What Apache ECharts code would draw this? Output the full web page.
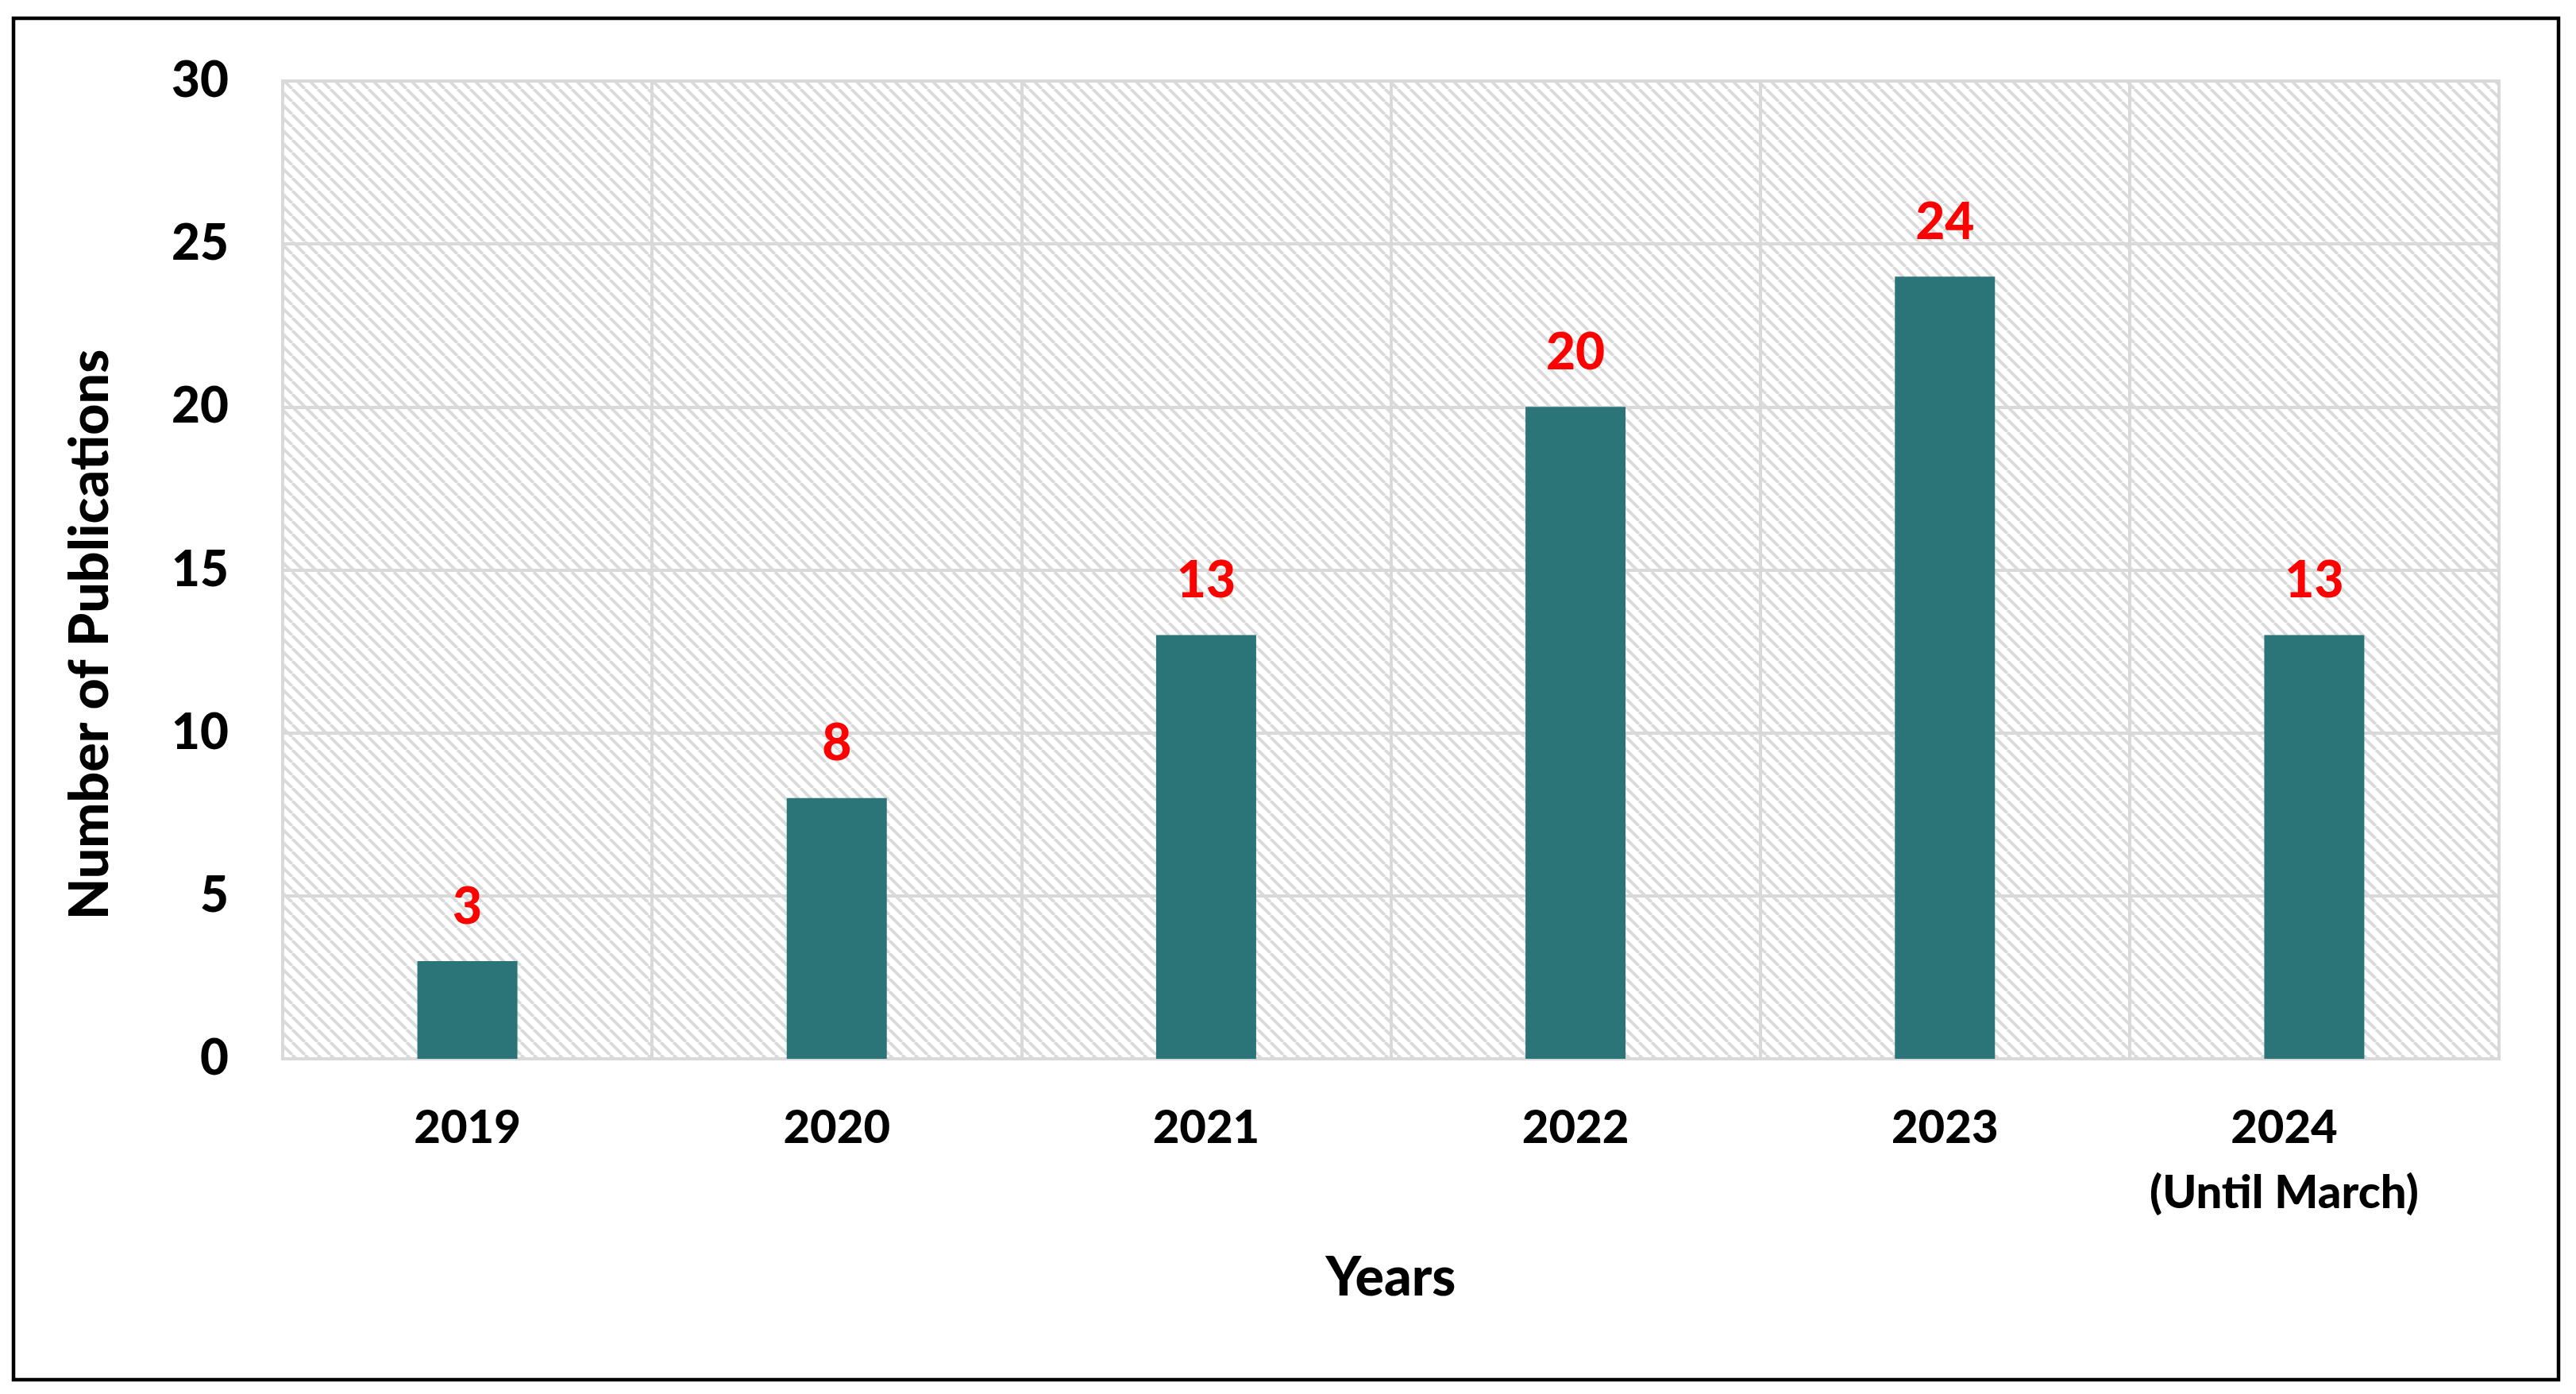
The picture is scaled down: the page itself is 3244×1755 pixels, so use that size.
<!DOCTYPE html>
<html>
<head>
<meta charset="utf-8">
<script src="https://cdn.jsdelivr.net/npm/echarts@6/dist/echarts.min.js"></script>
<style>
html,body{margin:0;padding:0;background:#fff;}
#chart{width:3244px;height:1755px;}
</style>
</head>
<body>
<div id="chart"></div>
<script>
const categories = ['2019', '2020', '2021', '2022', '2023', '2024\n(Until March)'];
const publications = [3, 8, 13, 20, 24, 13];
const yTicks = { min: 0, max: 30, interval: 5 };
const xAxisTitle = 'Years';
const yAxisTitle = 'Number of Publications';

const FONT = 'Lato, "Open Sans", "DejaVu Sans", sans-serif';
const W = 900;

// diagonal hatch pattern for the plot background
const pc = document.createElement('canvas');
const P = 16;
pc.width = P; pc.height = P;
const ctx = pc.getContext('2d');
ctx.fillStyle = '#ffffff';
ctx.fillRect(0, 0, P, P);
ctx.strokeStyle = '#dadada';
ctx.lineWidth = 4;
for (let k = -1; k <= 1; k++) {
  ctx.beginPath();
  ctx.moveTo(k * P, 0);
  ctx.lineTo(k * P + P, P);
  ctx.stroke();
}

const chart = echarts.init(document.getElementById('chart'), null, { renderer: 'canvas' });
const gridColor = '#d9d9d9';

const xData = categories.map((c, i) => i === categories.length - 1
  ? { value: c, textStyle: { padding: [0, 76, 0, 0] } }
  : c);

chart.setOption({
  animation: false,
  backgroundColor: '#ffffff',
  grid: {
    show: true,
    left: 356, right: 97, top: 102, bottom: 422,
    containLabel: false,
    backgroundColor: { image: pc, repeat: 'repeat' },
    borderColor: gridColor,
    borderWidth: 4
  },
  xAxis: {
    type: 'category',
    data: xData,
    axisLine: { show: true, lineStyle: { color: gridColor, width: 4 } },
    axisTick: { show: false },
    splitLine: { show: true, lineStyle: { color: gridColor, width: 4 } },
    axisLabel: {
      color: '#000', fontFamily: FONT, fontWeight: W, fontSize: 58,
      lineHeight: 82, margin: 46, interval: 0
    },
    name: xAxisTitle,
    nameLocation: 'middle',
    nameGap: 242,
    nameTextStyle: { color: '#000', fontFamily: FONT, fontWeight: W, fontSize: 68 }
  },
  yAxis: {
    type: 'value',
    min: yTicks.min, max: yTicks.max, interval: yTicks.interval,
    axisLine: { show: false },
    axisTick: { show: false },
    splitLine: { show: true, lineStyle: { color: gridColor, width: 4 } },
    axisLabel: {
      color: '#000', fontFamily: FONT, fontWeight: W, fontSize: 62, margin: 68
    }
  },
  graphic: [
    {
      type: 'rect',
      shape: { x: 17, y: 23, width: 3205, height: 1714 },
      style: { fill: 'none', stroke: '#000', lineWidth: 4.5 },
      silent: true, z: 100
    },
    {
      type: 'text',
      x: 114, y: 799,
      rotation: Math.PI / 2,
      style: {
        text: yAxisTitle,
        fill: '#000',
        font: W + ' 68px ' + FONT,
        align: 'center',
        verticalAlign: 'middle'
      }
    }
  ],
  series: [{
    type: 'bar',
    data: publications,
    barWidth: 126,
    itemStyle: { color: '#2b7579' },
    label: {
      show: true,
      position: 'top',
      distance: 36,
      color: '#ff0000',
      fontFamily: FONT,
      fontWeight: W,
      fontSize: 64
    }
  }]
});
</script>
</body>
</html>
